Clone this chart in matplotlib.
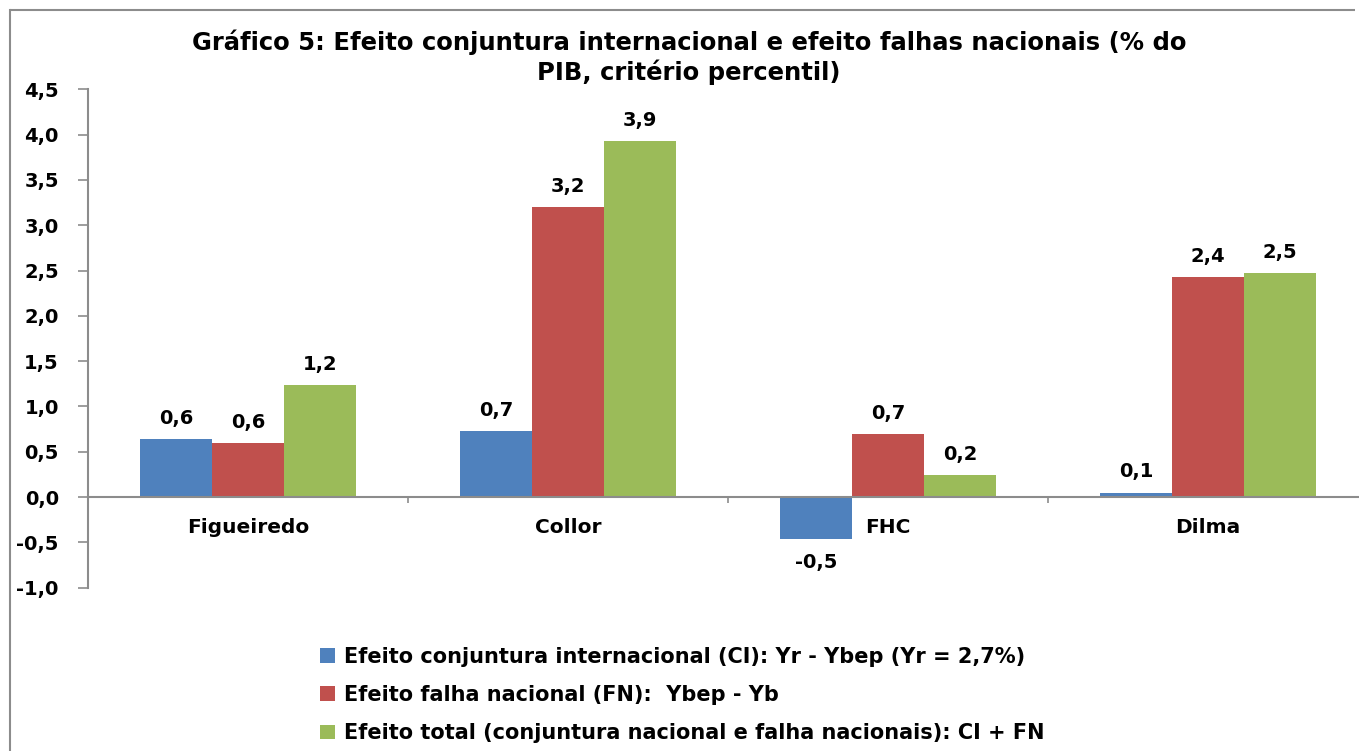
import matplotlib
matplotlib.use('Agg')
import matplotlib.pyplot as plt
from matplotlib.patches import Patch
from matplotlib.lines import Line2D
import numpy as np

# data
categories = ['Figueiredo', 'Collor', 'FHC', 'Dilma']
efeito_ci = [0.64, 0.73, -0.46, 0.05]
efeito_fn = [0.60, 3.20, 0.70, 2.43]
efeito_total = [1.24, 3.93, 0.24, 2.47]
series_names = ['Efeito conjuntura internacional (CI): Yr - Ybep (Yr = 2,7%)',
                'Efeito falha nacional (FN):  Ybep - Yb',
                'Efeito total (conjuntura nacional e falha nacionais): CI + FN']
colors = ['#4F81BD', '#C0504D', '#9BBB59']
yticks = [-1.0, -0.5, 0.0, 0.5, 1.0, 1.5, 2.0, 2.5, 3.0, 3.5, 4.0, 4.5]

plt.rcParams['font.family'] = ['DejaVu Sans']
plt.rcParams['font.weight'] = 'bold'

W, H = 1359, 751
fig = plt.figure(figsize=(W/100, H/100), dpi=100)

# outer chart frame: only left and top edges are inside the picture
fx, fy = 9.5/W, 1 - 9.5/H
fig.add_artist(Line2D([fx, fx], [0, fy], transform=fig.transFigure, color='#8c8c8c', linewidth=1.5))
fig.add_artist(Line2D([fx, (W - 4)/W], [fy, fy], transform=fig.transFigure, color='#8c8c8c',
                      linewidth=1.5, solid_capstyle='butt'))

ax = fig.add_axes([88/W, 163.3/H, (1368-88)/W, (661.7-163.3)/H])

x = np.arange(len(categories))
bw = 0.225
all_series = [efeito_ci, efeito_fn, efeito_total]
for i, vals in enumerate(all_series):
    bars = ax.bar(x + (i-1)*bw, vals, width=bw, color=colors[i], edgecolor='none', zorder=2)
    for b, v in zip(bars, vals):
        lbl = ('%.1f' % v).replace('.', ',')
        if v >= 0:
            ax.annotate(lbl, (b.get_x()+b.get_width()/2, v), xytext=(0, 8), textcoords='offset points',
                        ha='center', va='bottom', fontsize=14, fontweight='bold')
        else:
            ax.annotate(lbl, (b.get_x()+b.get_width()/2, v), xytext=(0, -10), textcoords='offset points',
                        ha='center', va='top', fontsize=14, fontweight='bold')

ax.set_xlim(-0.5, 3.5)
ax.set_ylim(-1.0, 4.5)
ax.set_yticks(yticks)
ax.set_yticklabels([('%.1f' % t).replace('.', ',') for t in yticks], fontsize=14, fontweight='bold')

ax.spines['top'].set_visible(False)
ax.spines['right'].set_visible(False)
ax.spines['bottom'].set_position(('data', 0))
for s in ['left', 'bottom']:
    ax.spines[s].set_color('#8c8c8c')
    ax.spines[s].set_linewidth(1.5)

ax.set_xticks(x)
ax.set_xticklabels(categories, fontsize=14.5, fontweight='bold')
ax.set_xticks([0.5, 1.5, 2.5], minor=True)
ax.tick_params(axis='x', which='major', length=0, pad=15)
ax.tick_params(axis='x', which='minor', length=4, color='#8c8c8c', width=1.2, direction='out')
ax.tick_params(axis='y', length=7, color='#8c8c8c', width=1.2, pad=14)

fig.text(689/W, 1 - 42/H, 'Gráfico 5: Efeito conjuntura internacional e efeito falhas nacionais (% do',
         ha='center', va='center', fontsize=17.5, fontweight='bold')
fig.text(689/W, 1 - 72/H, 'PIB, critério percentil)',
         ha='center', va='center', fontsize=17.5, fontweight='bold')

handles = [Patch(facecolor=c, edgecolor='none') for c in colors]
fig.legend(handles, series_names, loc='upper left', bbox_to_anchor=(320/W, 1 - 647/H),
           frameon=False, fontsize=15, handlelength=0.72, handleheight=0.72,
           handletextpad=0.45, labelspacing=0.87, borderaxespad=0, borderpad=0)

fig.savefig('out.png', dpi=100)
